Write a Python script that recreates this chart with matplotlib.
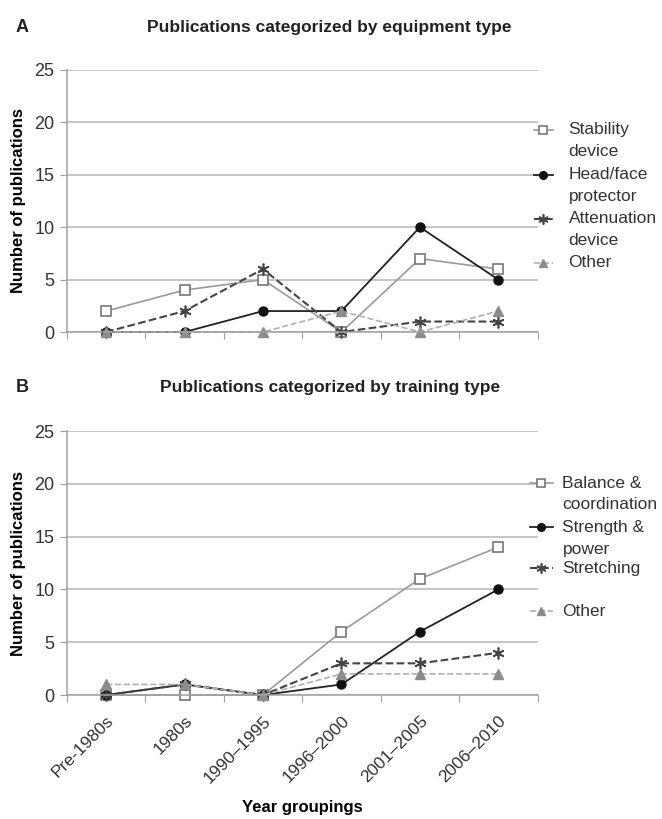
import numpy as np
import matplotlib
matplotlib.use("Agg")
import matplotlib.pyplot as plt
from matplotlib.ticker import FixedLocator, NullFormatter

plt.rcParams["font.family"] = ["Liberation Sans", "DejaVu Sans"]

years = ["Pre-1980s", "1980s", "1990\u20131995", "1996\u20132000", "2001\u20132005", "2006\u20132010"]

# Panel A: equipment type
stability = [2, 4, 5, 0, 7, 6]
head_face = [0, 0, 2, 2, 10, 5]
attenuation = [0, 2, 6, 0, 1, 1]
other_equip = [0, 0, 0, 2, 0, 2]

# Panel B: training type
balance = [0, 0, 0, 6, 11, 14]
strength = [0, 1, 0, 1, 6, 10]
stretching = [0, 1, 0, 3, 3, 4]
other_train = [1, 1, 0, 2, 2, 2]

labels_a = [["Stability", "device"], ["Head/face", "protector"], ["Attenuation", "device"], ["Other"]]
labels_b = [["Balance &", "coordination"], ["Strength &", "power"], ["Stretching"], ["Other"]]

styles = [
    dict(color="#9a9a9a", ls="-", lw=1.2, marker="s", ms=7.5, mfc="white", mec="#777777", mew=1.2),
    dict(color="#222222", ls="-", lw=1.3, marker="o", ms=6.5, mfc="#111111", mec="#111111"),
    dict(color="#444444", ls="--", lw=1.5, marker=(6, 2, 0), ms=8.5, mec="#444444", mew=1.2),
    dict(color="#b0b0b0", ls="--", lw=1.2, marker="^", ms=7, mfc="#8c8c8c", mec="#8c8c8c"),
]

fig = plt.figure(figsize=(6.62, 8.19), dpi=100)
ax_a = fig.add_axes([0.101, 0.5946, 0.711, 0.320])
ax_b = fig.add_axes([0.101, 0.1514, 0.711, 0.3223])

panels = [
    (ax_a, [stability, head_face, attenuation, other_equip], labels_a,
     [0.771, 0.600, 0.432, 0.265], (0.992, 1.032, 1.066)),
    (ax_b, [balance, strength, stretching, other_train], labels_b,
     [0.803, 0.636, 0.481, 0.318], (0.983, 1.032, 1.053)),
]

x = np.arange(len(years))
for ax, series, labels, leg_y, (hx0, hx1, tx) in panels:
    for vals, st in zip(series, styles):
        ax.plot(x, vals, clip_on=False, **st)
    ax.set_xlim(-0.5, 5.5)
    ax.set_ylim(0, 25)
    ax.set_yticks([0, 5, 10, 15, 20, 25])
    ax.yaxis.grid(True, color="#b5b5b5", lw=1.1)
    ax.set_axisbelow(True)
    for s in ["top", "right"]:
        ax.spines[s].set_visible(False)
    for s in ["left", "bottom"]:
        ax.spines[s].set_color("#a0a0a0")
        ax.spines[s].set_linewidth(1.1)
    ax.xaxis.set_major_locator(FixedLocator(np.arange(-0.5, 6.0, 1.0)))
    ax.xaxis.set_major_formatter(NullFormatter())
    ax.xaxis.set_minor_locator(FixedLocator(x))
    ax.tick_params(axis="x", which="major", length=5, color="#a0a0a0")
    ax.tick_params(axis="x", which="minor", length=0)
    ax.tick_params(axis="y", length=5, color="#a0a0a0", labelsize=13, labelcolor="#333333", pad=4)
    ax.set_ylabel("Number of publications", fontsize=12, fontweight="bold", labelpad=6)

    # legend drawn by hand so the marker sits on the first line of a two-line label
    for lab_lines, st, y in zip(labels, styles, leg_y):
        hst = dict(st)
        hst["ms"] = st["ms"] * 0.85
        ax.plot([hx0, (hx0 + hx1) / 2, hx1], [y, y, y], transform=ax.transAxes,
                clip_on=False, markevery=[1], **hst)
        for k, line in enumerate(lab_lines):
            ax.annotate(line, (tx, y), xycoords="axes fraction", xytext=(0, -15.8 * k),
                        textcoords="offset points", va="center", ha="left",
                        fontsize=12.5, color="#333333", annotation_clip=False)

ax_a.xaxis.set_minor_formatter(NullFormatter())
ax_b.set_xticks(x, years, minor=True)
ax_b.tick_params(axis="x", which="minor", labelsize=12.5, labelrotation=45, labelcolor="#333333", pad=13)
for t in ax_b.get_xticklabels(minor=True):
    t.set_ha("right")
    t.set_rotation_mode("anchor")
ax_b.set_xlabel("Year groupings", fontsize=12, fontweight="bold", labelpad=10)

title_font = dict(fontsize=12.5, fontweight="bold", va="center", color="#222222",
                  family=["Liberation Sans Narrow", "Liberation Sans", "DejaVu Sans"])
fig.text(0.024, 0.966, "A", fontsize=13, fontweight="bold", va="center", color="#222222")
fig.text(0.498, 0.966, "Publications categorized by equipment type", ha="center", **title_font)
fig.text(0.024, 0.527, "B", fontsize=13, fontweight="bold", va="center", color="#222222")
fig.text(0.498, 0.527, "Publications categorized by training type", ha="center", **title_font)

fig.savefig("out.png", dpi=100)
